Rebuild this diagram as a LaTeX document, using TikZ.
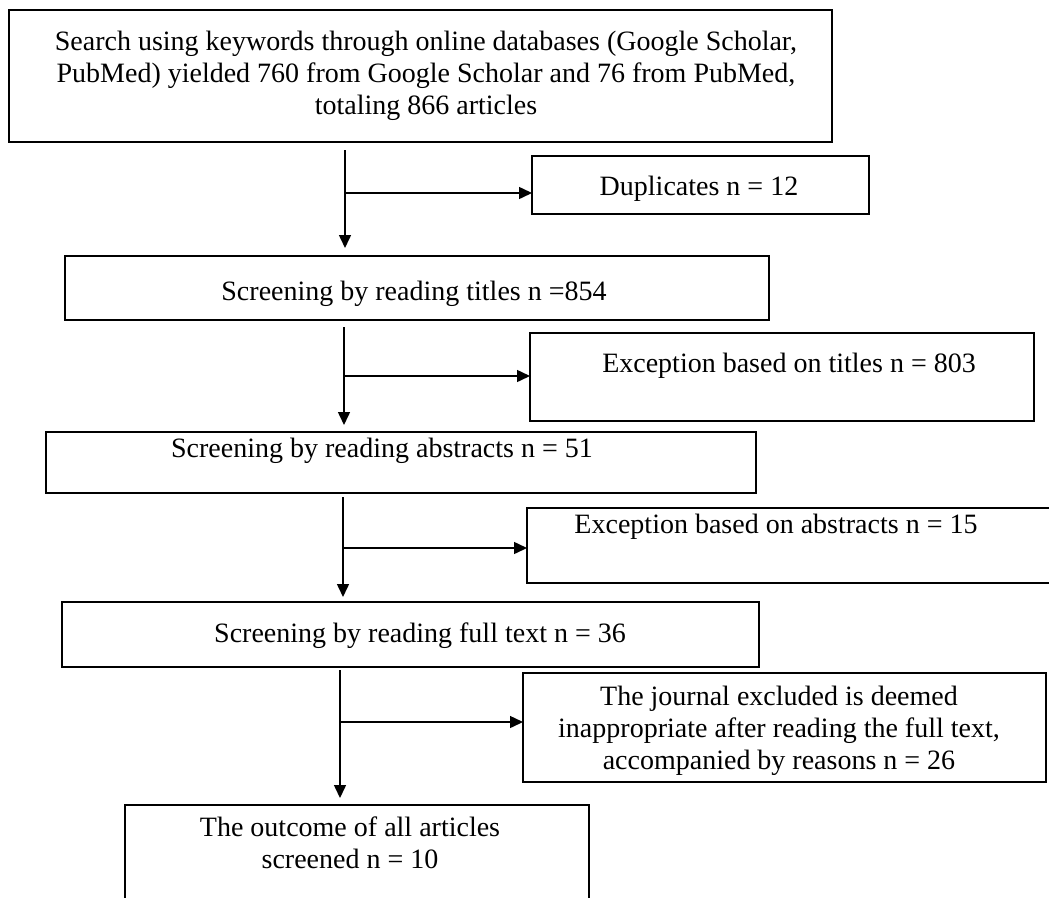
\documentclass[tikz,border=0pt]{standalone}
\usepackage{fontspec}
\setmainfont{Liberation Serif}
\usetikzlibrary{arrows.meta,calc}
\begin{document}
\begin{tikzpicture}[x=1pt,y=-1pt,
  box/.style={draw, line width=1.3pt, inner sep=0pt, outer sep=0pt, anchor=north west},
  txt/.style={font=\fontsize{28}{32}\selectfont, inner sep=0pt, align=center, anchor=base},
  arr/.style={line width=1.5pt, -{Triangle[length=13pt,width=12pt]}}]
\useasboundingbox (0,0) rectangle (1049,897);
\clip (0,0) rectangle (1049,897);
% boxes
\node[box, minimum width=823pt, minimum height=132pt] (b1) at (9,10) {};
\node[box, minimum width=337pt, minimum height=58pt] (d1) at (532,156) {};
\node[box, minimum width=704pt, minimum height=64pt] (b2) at (65,256) {};
\node[box, minimum width=504pt, minimum height=88pt] (e1) at (530,333) {};
\node[box, minimum width=710pt, minimum height=61pt] (b3) at (46,432) {};
\node[box, minimum width=540pt, minimum height=75pt] (e2) at (527,508) {};
\node[box, minimum width=697pt, minimum height=65pt] (b4) at (62,602) {};
\node[box, minimum width=523pt, minimum height=109pt] (e3) at (523,673) {};
\node[box, minimum width=464pt, minimum height=120pt] (b5) at (125,805) {};
% texts (base anchor = baseline of the last line)
\node[txt] (t1) at (426,114) {Search using keywords through online databases (Google Scholar,\\PubMed) yielded 760 from Google Scholar and 76 from PubMed,\\totaling 866 articles};
\node[txt] (td) at (699,195) {Duplicates n = 12};
\node[txt] (t2) at (414,300) {Screening by reading titles n =854};
\node[txt] (te1) at (789,372) {Exception based on titles n = 803};
\node[txt] (t3) at (382,457) {Screening by reading abstracts n = 51};
\node[txt] (te2) at (776,533) {Exception based on abstracts n = 15};
\node[txt] (t4) at (420,642) {Screening by reading full text n = 36};
\node[txt] (te3) at (779,769) {The journal excluded is deemed\\inappropriate after reading the full text,\\accompanied by reasons n = 26};
\node[txt] (t5) at (350,868) {The outcome of all articles\\screened n = 10};
% trunk coordinates
\coordinate (x1) at (345,0);
\coordinate (x2) at (344,0);
\coordinate (x3) at (343,0);
\coordinate (x4) at (340,0);
\coordinate (j1) at (345,193);
\coordinate (j2) at (344,376);
\coordinate (j3) at (343,548);
\coordinate (j4) at (340,722);
% connectors
\draw[arr] ($(x1 |- b1.south)+(0,8)$) -- ($(x1 |- b2.north)+(0,-8)$);
\draw[arr] (j1) -- (j1 -| d1.west);
\draw[arr] ($(x2 |- b2.south)+(0,7)$) -- ($(x2 |- b3.north)+(0,-7)$);
\draw[arr] (j2) -- (j2 -| e1.west);
\draw[arr] ($(x3 |- b3.south)+(0,4)$) -- ($(x3 |- b4.north)+(0,-5)$);
\draw[arr] (j3) -- (j3 -| e2.west);
\draw[arr] ($(x4 |- b4.south)+(0,3)$) -- ($(x4 |- b5.north)+(0,-7)$);
\draw[arr] (j4) -- (j4 -| e3.west);
\end{tikzpicture}
\end{document}
